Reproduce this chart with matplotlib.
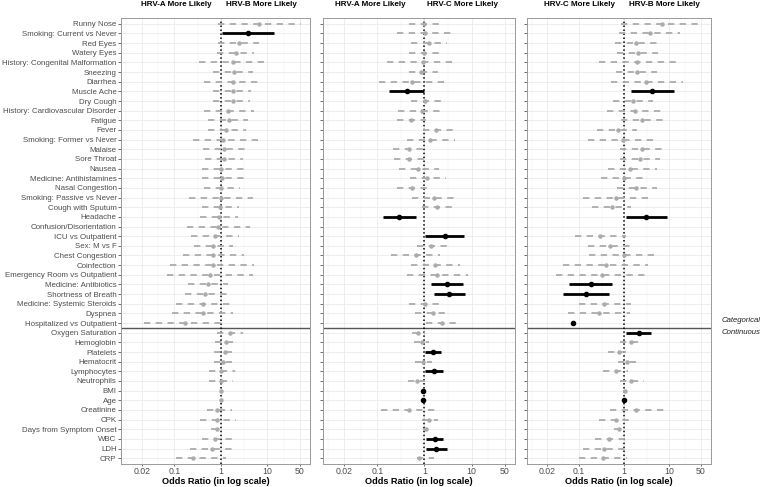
import numpy as np
import matplotlib
matplotlib.use("Agg")
import matplotlib.pyplot as plt

plt.rcParams['font.family'] = ['Liberation Sans', 'DejaVu Sans']

labels = [
    "Runny Nose", "Smoking: Current vs Never", "Red Eyes", "Watery Eyes",
    "History: Congenital Malformation", "Sneezing", "Diarrhea", "Muscle Ache",
    "Dry Cough", "History: Cardiovascular Disorder", "Fatigue", "Fever",
    "Smoking: Former vs Never", "Malaise", "Sore Throat", "Nausea",
    "Medicine: Antihistamines", "Nasal Congestion", "Smoking: Passive vs Never",
    "Cough with Sputum", "Headache", "Confusion/Disorientation", "ICU vs Outpatient",
    "Sex: M vs F", "Chest Congestion", "Coinfection", "Emergency Room vs Outpatient",
    "Medicine: Antibiotics", "Shortness of Breath", "Medicine: Systemic Steroids",
    "Dyspnea", "Hospitalized vs Outpatient",
    "Oxygen Saturation", "Hemoglobin", "Platelets", "Hematocrit", "Lymphocytes",
    "Neutrophils", "BMI", "Age", "Creatinine", "CPK", "Days from Symptom Onset",
    "WBC", "LDH", "CRP",
]
n_categorical = 32

nan = np.nan

# HRV-A vs HRV-B
ab_or = [6.8, 3.8, 2.45, 2.1, 1.8, 1.9, 1.8, 1.8, 1.8, 1.4, 1.5, 1.3, 1.12, 1.15, 1.15, 1.03,
         1.08, 1.03, 1.03, 0.95, 0.9, 0.88, 0.75, 0.69, 0.69, 0.69, 0.58, 0.54, 0.46, 0.41,
         0.42, 0.17,
         1.55, 1.28, 1.22, 1.12, 1.0, 1.0, 1.0, 1.0, 0.84, 0.84, 0.81, 0.75, 0.63, 0.25]
ab_lo = [0.88, 1.08, 0.88, 0.81, 0.34, 0.69, 0.43, 0.69, 0.69, 0.43, 0.54, 0.54, 0.25, 0.42, 0.46, 0.39,
         0.39, 0.43, 0.21, 0.39, 0.36, 0.19, 0.23, 0.26, 0.15, 0.08, 0.07, 0.2, 0.17, 0.11,
         0.09, 0.022,
         0.84, 0.75, 0.72, 0.72, 0.56, 0.56, 0.95, 0.96, 0.5, 0.35, 0.6, 0.39, 0.22, 0.11]
ab_hi = [52, 14, 6.6, 5.3, 10.2, 4.9, 7.3, 4.5, 4.3, 5.3, 3.8, 3.4, 6.2, 3.5, 3.0, 3.5,
         3.5, 2.6, 5.0, 2.45, 2.3, 4.3, 2.45, 1.8, 3.2, 5.3, 5.0, 1.43, 1.43, 1.55,
         1.8, 1.32,
         3.0, 2.15, 2.0, 1.83, 2.0, 1.83, 1.08, 1.05, 1.7, 2.1, 1.03, 1.7, 2.0, 1.32]
ab_sig = [0, 1, 0, 0, 0, 0, 0, 0, 0, 0, 0, 0, 0, 0, 0, 0, 0, 0, 0, 0, 0, 0, 0, 0, 0, 0, 0, 0, 0, 0,
          0, 0,
          0, 0, 0, 0, 0, 0, 0, 0, 0, 0, 0, 0, 0, 0]

# HRV-A vs HRV-C
ac_or = [1.0, 1.03, 1.26, 1.0, 0.92, 0.85, 0.55, 0.42, 1.03, 0.88, 0.51, 1.78, 1.32, 0.48, 0.48, 0.74,
         1.16, 0.54, 1.61, 1.84, 0.29, nan, 2.68, 1.39, 0.65, 1.69, 1.84, 3.0, 3.4, 1.03,
         1.51, 2.35,
         0.74, 0.88, 1.51, 0.95, 1.61, 0.69, 0.92, 0.95, 0.47, 1.28, 1.08, 1.64, 1.78, 0.78]
ac_lo = [0.46, 0.26, 0.52, 0.48, 0.16, 0.46, 0.11, 0.18, 0.53, 0.28, 0.26, 0.95, 0.43, 0.22, 0.23, 0.29,
         0.49, 0.26, 0.54, 0.88, 0.13, nan, 1.03, 0.68, 0.2, 0.51, 0.42, 1.37, 1.56, 0.48,
         0.63, 1.1,
         0.54, 0.61, 1.03, 0.63, 1.03, 0.45, 0.89, 0.93, 0.12, 0.88, 0.95, 1.07, 1.07, 0.69]
ac_hi = [2.35, 4.5, 3.0, 2.1, 4.9, 1.93, 2.77, 1.0, 2.35, 2.6, 1.09, 4.0, 4.5, 1.09, 1.03, 2.0,
         2.9, 1.16, 4.8, 4.2, 0.65, nan, 6.9, 3.0, 2.16, 5.8, 8.3, 6.5, 7.4, 2.47,
         3.55, 5.8,
         1.03, 1.28, 2.24, 1.43, 2.47, 1.03, 0.95, 0.97, 1.84, 1.9, 1.2, 2.47, 3.0, 1.56]
ac_sig = [0, 0, 0, 0, 0, 0, 0, 1, 0, 0, 0, 0, 0, 0, 0, 0, 0, 0, 0, 0, 1, 0, 1, 0, 0, 0, 0, 1, 1, 0,
          0, 0,
          0, 0, 1, 0, 1, 0, 1, 1, 0, 0, 0, 1, 1, 0]

# HRV-C vs HRV-B
cb_or = [6.7, 3.7, 1.87, 2.03, 1.93, 1.93, 3.1, 4.1, 1.58, 1.72, 2.5, 0.74, 0.92, 2.5, 2.2, 1.33,
         0.98, 1.87, 0.66, 0.53, 3.1, nan, 0.29, 0.48, 0.98, 0.39, 0.32, 0.18, 0.14, 0.36,
         0.28, 0.075,
         2.1, 1.45, 0.78, 1.16, 0.66, 1.45, 1.02, 1.0, 1.87, 0.66, 0.78, 0.47, 0.36, 0.34]
cb_lo = [0.87, 0.76, 0.62, 0.71, 0.28, 0.65, 0.5, 1.38, 0.57, 0.41, 0.87, 0.25, 0.16, 0.8, 0.8, 0.44,
         0.3, 0.68, 0.12, 0.19, 1.09, nan, 0.082, 0.16, 0.17, 0.044, 0.031, 0.059, 0.044, 0.1,
         0.056, nan,
         1.09, 0.8, 0.44, 0.74, 0.34, 0.8, 0.95, 0.97, 0.48, 0.28, 0.59, 0.23, 0.12, 0.1]
cb_hi = [53, 17, 5.6, 5.6, 14.8, 5.3, 20, 12.4, 4.4, 7.2, 7.5, 1.93, 5.0, 7.9, 6.3, 5.3,
         3.4, 5.2, 3.4, 1.45, 9.0, nan, 1.09, 1.33, 5.6, 3.4, 3.2, 0.55, 0.47, 1.45,
         1.33, nan,
         4.0, 2.6, 1.33, 2.03, 1.22, 2.7, 1.08, 1.03, 7.5, 1.58, 1.09, 1.03, 1.03, 1.16]
cb_sig = [0, 0, 0, 0, 0, 0, 0, 1, 0, 0, 0, 0, 0, 0, 0, 0, 0, 0, 0, 0, 1, 0, 0, 0, 0, 0, 0, 1, 1, 0,
          0, 1,
          1, 0, 0, 0, 0, 0, 0, 1, 0, 0, 0, 0, 0, 0]

x_ticks = [0.02, 0.1, 1, 10, 50]
x_ticklabels = ["0.02", "0.1", "1", "10", "50"]

panels = [
    (ab_or, ab_lo, ab_hi, ab_sig, (121, 310), ("HRV-A More Likely", "HRV-B More Likely"), (176, 261)),
    (ac_or, ac_lo, ac_hi, ac_sig, (323, 515), ("HRV-A More Likely", "HRV-C More Likely"), (370, 463)),
    (cb_or, cb_lo, cb_hi, cb_sig, (527, 711), ("HRV-C More Likely", "HRV-B More Likely"), (579, 664)),
]

W, H = 760, 487
fig = plt.figure(figsize=(W / 100, H / 100), dpi=100)
top_px, bot_px = 18, 464
grey_txt = '#4D4D4D'
grey_pt = '#ABABAB'

for k, (pt, lo, hi, sig, (x0, x1), heads, head_x) in enumerate(panels):
    ax = fig.add_axes([x0 / W, 1 - bot_px / H, (x1 - x0) / W, (bot_px - top_px) / H])
    ax.set_xscale('log')
    ax.set_xlim(10 ** -2.15, 10 ** 1.92)
    ax.set_ylim(len(labels) - 0.4, -0.6)

    ax.set_xticks(x_ticks)
    ax.set_xticklabels(x_ticklabels)
    minors = [0.02 / np.sqrt(5)] + [np.sqrt(a * b) for a, b in zip(x_ticks[:-1], x_ticks[1:])]
    ax.set_xticks(minors, minor=True)
    ax.tick_params(axis='x', which='minor', length=0)
    ax.set_yticks(range(len(labels)))
    if k == 0:
        ax.set_yticklabels(labels)
    else:
        ax.set_yticklabels([])
    ax.tick_params(axis='both', which='major', length=2.0, width=0.5, color='#333333',
                   labelsize=5.7, labelcolor=grey_txt, pad=1.2)
    ax.tick_params(axis='x', labelsize=6.3, pad=0.6, length=1.5)

    ax.set_axisbelow(True)
    ax.grid(which='major', color='#EBEBEB', lw=0.6)
    ax.grid(which='minor', axis='x', color='#F2F2F2', lw=0.35)
    for s in ax.spines.values():
        s.set_color('#9A9A9A')
        s.set_linewidth(0.7)

    ax.axhline(n_categorical - 0.5, color='#555555', lw=1.0, zorder=2)
    ax.axvline(1, color='black', ls=(0, (1, 1.6)), lw=1.1, zorder=2)

    for i in range(len(labels)):
        if np.isnan(pt[i]):
            continue
        if sig[i]:
            if not np.isnan(lo[i]):
                ax.plot([lo[i], hi[i]], [i, i], color='black', lw=2.0,
                        solid_capstyle='butt', zorder=4)
            ax.plot(pt[i], i, 'o', color='black', ms=3.0, zorder=5)
        else:
            ax.plot([lo[i], hi[i]], [i, i], color=grey_pt, lw=1.3,
                    ls=(0, (3.5, 3.0)), dash_capstyle='butt', zorder=3)
            ax.plot(pt[i], i, 'o', color=grey_pt, ms=2.2, zorder=3)

    ax.set_xlabel("Odds Ratio (in log scale)", fontsize=6.6, fontweight='bold', labelpad=0.8)

    for txt, hx in zip(heads, head_x):
        fig.text(hx / W, 1 - 5 / H, txt, ha='center', va='center',
                 fontsize=5.8, fontweight='bold')

fig.text(722 / W, 1 - 321 / H, "Categorical", ha='left', va='center',
         fontsize=5.6, style='italic', color='#222222')
fig.text(722 / W, 1 - 332 / H, "Continuous", ha='left', va='center',
         fontsize=5.6, style='italic', color='#222222')

fig.savefig("out.png", dpi=100, facecolor='white')
